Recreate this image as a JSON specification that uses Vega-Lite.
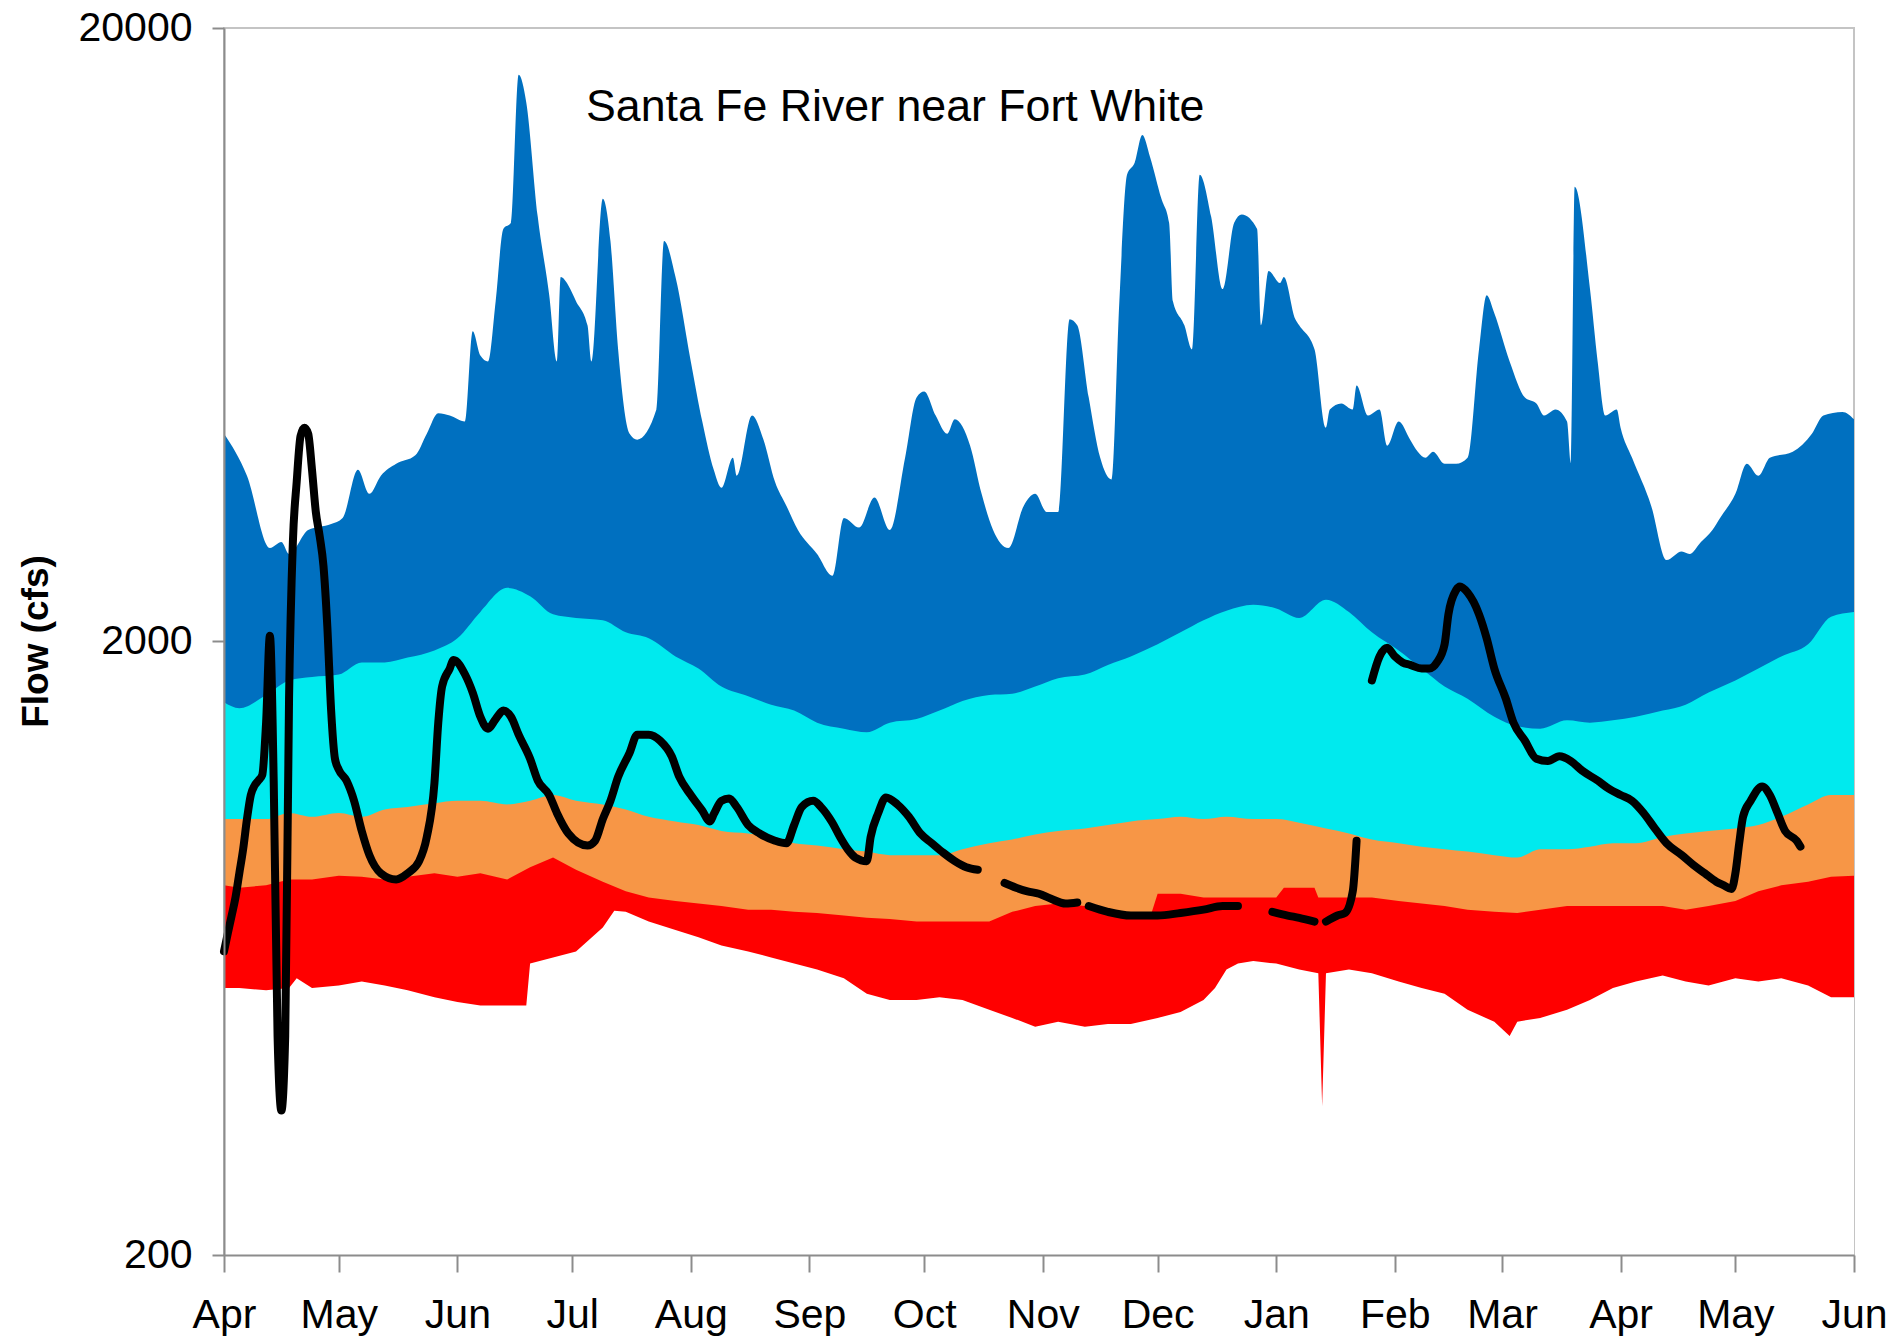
{
  "$schema": "https://vega.github.io/schema/vega-lite/v6.json",
  "autosize": {"type": "none"},
  "padding": {"left": 224, "top": 28, "right": 34, "bottom": 82},
  "width": 1630,
  "height": 1227,
  "background": "white",
  "config": {"font": "Liberation Sans", "view": {"stroke": "#C4C4C4", "strokeWidth": 2}},
  "title": {"text": "Santa Fe River near Fort White", "anchor": "start", "frame": "group", "orient": "top", "offset": 0, "baseline": "top", "dx": 362, "dy": 124, "font": "Liberation Sans", "fontSize": 44.7, "fontWeight": "normal", "color": "black"},
  "datasets": {
    "maxv": [
      {"date":"2012-04-01","flow":4363},{"date":"2012-04-07","flow":3725},{"date":"2012-04-13","flow":2840},{"date":"2012-04-16","flow":2905},{"date":"2012-04-18","flow":2777},{"date":"2012-04-23","flow":3039},{"date":"2012-04-29","flow":3109},{"date":"2012-05-02","flow":3180},{"date":"2012-05-06","flow":3810},{"date":"2012-05-09","flow":3481},{"date":"2012-05-12","flow":3725},{"date":"2012-05-16","flow":3897},{"date":"2012-05-21","flow":4023},{"date":"2012-05-24","flow":4363},{"date":"2012-05-27","flow":4711},{"date":"2012-05-30","flow":4670},{"date":"2012-06-03","flow":4565},{"date":"2012-06-05","flow":6407},{"date":"2012-06-07","flow":5853},{"date":"2012-06-09","flow":5723},{"date":"2012-06-11","flow":7174},{"date":"2012-06-13","flow":9409},{"date":"2012-06-15","flow":9628},{"date":"2012-06-17","flow":16780},{"date":"2012-06-19","flow":15125},{"date":"2012-06-22","flow":9844},{"date":"2012-06-25","flow":7338},{"date":"2012-06-27","flow":5723},{"date":"2012-06-28","flow":7853},{"date":"2012-06-30","flow":7610},{"date":"2012-07-02","flow":7174},{"date":"2012-07-05","flow":6554},{"date":"2012-07-06","flow":5723},{"date":"2012-07-09","flow":10535},{"date":"2012-07-11","flow":8993},{"date":"2012-07-13","flow":5987},{"date":"2012-07-16","flow":4363},{"date":"2012-07-18","flow":4266},{"date":"2012-07-23","flow":4776},{"date":"2012-07-25","flow":8993},{"date":"2012-07-28","flow":7853},{"date":"2012-08-01","flow":5723},{"date":"2012-08-04","flow":4565},{"date":"2012-08-07","flow":3810},{"date":"2012-08-09","flow":3561},{"date":"2012-08-12","flow":3986},{"date":"2012-08-13","flow":3725},{"date":"2012-08-17","flow":4670},{"date":"2012-08-20","flow":4266},{"date":"2012-08-23","flow":3642},{"date":"2012-08-26","flow":3327},{"date":"2012-08-29","flow":3039},{"date":"2012-09-03","flow":2777},{"date":"2012-09-07","flow":2560},{"date":"2012-09-10","flow":3180},{"date":"2012-09-14","flow":3067},{"date":"2012-09-18","flow":3434},{"date":"2012-09-22","flow":3039},{"date":"2012-09-26","flow":3986},{"date":"2012-09-29","flow":4997},{"date":"2012-10-01","flow":5110},{"date":"2012-10-04","flow":4670},{"date":"2012-10-07","flow":4363},{"date":"2012-10-09","flow":4607},{"date":"2012-10-13","flow":4171},{"date":"2012-10-16","flow":3481},{"date":"2012-10-19","flow":3039},{"date":"2012-10-23","flow":2840},{"date":"2012-10-27","flow":3327},{"date":"2012-10-30","flow":3481},{"date":"2012-11-02","flow":3252},{"date":"2012-11-05","flow":3252},{"date":"2012-11-08","flow":6705},{"date":"2012-11-10","flow":6554},{"date":"2012-11-13","flow":4997},{"date":"2012-11-16","flow":3986},{"date":"2012-11-19","flow":3675},{"date":"2012-11-21","flow":7174},{"date":"2012-11-23","flow":11530},{"date":"2012-11-25","flow":12063},{"date":"2012-11-27","flow":13386},{"date":"2012-11-29","flow":12341},{"date":"2012-12-02","flow":10535},{"date":"2012-12-04","flow":9628},{"date":"2012-12-05","flow":7174},{"date":"2012-12-08","flow":6554},{"date":"2012-12-10","flow":5987},{"date":"2012-12-12","flow":11530},{"date":"2012-12-15","flow":9844},{"date":"2012-12-18","flow":7506},{"date":"2012-12-21","flow":9628},{"date":"2012-12-23","flow":9933},{"date":"2012-12-27","flow":9409},{"date":"2012-12-28","flow":6554},{"date":"2012-12-30","flow":8033},{"date":"2013-01-02","flow":7678},{"date":"2013-01-03","flow":7853},{"date":"2013-01-06","flow":6705},{"date":"2013-01-07","flow":6554},{"date":"2013-01-11","flow":5987},{"date":"2013-01-14","flow":4463},{"date":"2013-01-15","flow":4776},{"date":"2013-01-18","flow":4886},{"date":"2013-01-21","flow":4776},{"date":"2013-01-22","flow":5228},{"date":"2013-01-25","flow":4670},{"date":"2013-01-28","flow":4776},{"date":"2013-01-30","flow":4171},{"date":"2013-02-02","flow":4565},{"date":"2013-02-05","flow":4266},{"date":"2013-02-07","flow":4077},{"date":"2013-02-09","flow":3986},{"date":"2013-02-11","flow":4077},{"date":"2013-02-14","flow":3897},{"date":"2013-02-17","flow":3897},{"date":"2013-02-20","flow":3986},{"date":"2013-02-23","flow":5987},{"date":"2013-02-25","flow":7338},{"date":"2013-02-27","flow":6857},{"date":"2013-03-03","flow":5723},{"date":"2013-03-07","flow":4997},{"date":"2013-03-10","flow":4886},{"date":"2013-03-12","flow":4670},{"date":"2013-03-15","flow":4776},{"date":"2013-03-18","flow":4565},{"date":"2013-03-19","flow":3897},{"date":"2013-03-20","flow":11025},{"date":"2013-03-24","flow":7506},{"date":"2013-03-26","flow":5723},{"date":"2013-03-28","flow":4670},{"date":"2013-03-31","flow":4776},{"date":"2013-04-01","flow":4463},{"date":"2013-04-04","flow":3986},{"date":"2013-04-09","flow":3327},{"date":"2013-04-13","flow":2715},{"date":"2013-04-17","flow":2803},{"date":"2013-04-19","flow":2777},{"date":"2013-04-22","flow":2905},{"date":"2013-04-25","flow":3039},{"date":"2013-04-27","flow":3180},{"date":"2013-05-01","flow":3481},{"date":"2013-05-04","flow":3897},{"date":"2013-05-07","flow":3725},{"date":"2013-05-10","flow":3986},{"date":"2013-05-16","flow":4077},{"date":"2013-05-21","flow":4363},{"date":"2013-05-24","flow":4670},{"date":"2013-05-29","flow":4734},{"date":"2013-06-01","flow":4607}
    ],
    "p75": [
      {"date":"2012-04-01","flow":1592},{"date":"2012-04-05","flow":1557},{"date":"2012-04-12","flow":1636},{"date":"2012-04-18","flow":1728},{"date":"2012-04-24","flow":1751},{"date":"2012-05-01","flow":1767},{"date":"2012-05-07","flow":1849},{"date":"2012-05-13","flow":1849},{"date":"2012-05-19","flow":1883},{"date":"2012-05-26","flow":1934},{"date":"2012-06-01","flow":2024},{"date":"2012-06-07","flow":2235},{"date":"2012-06-14","flow":2446},{"date":"2012-06-20","flow":2371},{"date":"2012-06-26","flow":2215},{"date":"2012-07-02","flow":2185},{"date":"2012-07-09","flow":2166},{"date":"2012-07-15","flow":2070},{"date":"2012-07-21","flow":2024},{"date":"2012-07-28","flow":1891},{"date":"2012-08-03","flow":1807},{"date":"2012-08-09","flow":1689},{"date":"2012-08-16","flow":1629},{"date":"2012-08-22","flow":1578},{"date":"2012-08-28","flow":1543},{"date":"2012-09-03","flow":1475},{"date":"2012-09-10","flow":1442},{"date":"2012-09-16","flow":1423},{"date":"2012-09-22","flow":1475},{"date":"2012-09-29","flow":1495},{"date":"2012-10-05","flow":1543},{"date":"2012-10-11","flow":1600},{"date":"2012-10-18","flow":1636},{"date":"2012-10-24","flow":1644},{"date":"2012-10-30","flow":1689},{"date":"2012-11-05","flow":1743},{"date":"2012-11-12","flow":1767},{"date":"2012-11-18","flow":1832},{"date":"2012-11-24","flow":1891},{"date":"2012-12-01","flow":1979},{"date":"2012-12-07","flow":2070},{"date":"2012-12-13","flow":2166},{"date":"2012-12-19","flow":2245},{"date":"2012-12-26","flow":2296},{"date":"2013-01-01","flow":2264},{"date":"2013-01-07","flow":2185},{"date":"2013-01-14","flow":2340},{"date":"2013-01-20","flow":2235},{"date":"2013-01-26","flow":2070},{"date":"2013-02-02","flow":1934},{"date":"2013-02-08","flow":1807},{"date":"2013-02-14","flow":1689},{"date":"2013-02-20","flow":1614},{"date":"2013-02-27","flow":1508},{"date":"2013-03-05","flow":1455},{"date":"2013-03-11","flow":1442},{"date":"2013-03-18","flow":1488},{"date":"2013-03-24","flow":1475},{"date":"2013-03-30","flow":1488},{"date":"2013-04-05","flow":1508},{"date":"2013-04-12","flow":1543},{"date":"2013-04-18","flow":1578},{"date":"2013-04-24","flow":1651},{"date":"2013-05-01","flow":1728},{"date":"2013-05-07","flow":1807},{"date":"2013-05-13","flow":1891},{"date":"2013-05-20","flow":1979},{"date":"2013-05-26","flow":2195},{"date":"2013-06-01","flow":2235}
    ],
    "p25": [
      {"date":"2012-04-01","flow":1027},{"date":"2012-04-05","flow":1027},{"date":"2012-04-12","flow":1027},{"date":"2012-04-18","flow":1051},{"date":"2012-04-24","flow":1036},{"date":"2012-05-01","flow":1051},{"date":"2012-05-07","flow":1036},{"date":"2012-05-13","flow":1065},{"date":"2012-05-19","flow":1075},{"date":"2012-05-26","flow":1090},{"date":"2012-06-01","flow":1100},{"date":"2012-06-07","flow":1100},{"date":"2012-06-14","flow":1085},{"date":"2012-06-20","flow":1100},{"date":"2012-06-26","flow":1124},{"date":"2012-07-02","flow":1100},{"date":"2012-07-09","flow":1085},{"date":"2012-07-15","flow":1065},{"date":"2012-07-21","flow":1036},{"date":"2012-07-28","flow":1018},{"date":"2012-08-03","flow":1004},{"date":"2012-08-09","flow":982},{"date":"2012-08-16","flow":973},{"date":"2012-08-22","flow":960},{"date":"2012-08-28","flow":938},{"date":"2012-09-03","flow":930},{"date":"2012-09-10","flow":917},{"date":"2012-09-16","flow":909},{"date":"2012-09-22","flow":897},{"date":"2012-09-29","flow":897},{"date":"2012-10-05","flow":897},{"date":"2012-10-11","flow":917},{"date":"2012-10-18","flow":938},{"date":"2012-10-24","flow":951},{"date":"2012-10-30","flow":969},{"date":"2012-11-05","flow":982},{"date":"2012-11-12","flow":991},{"date":"2012-11-18","flow":1004},{"date":"2012-11-24","flow":1018},{"date":"2012-12-01","flow":1027},{"date":"2012-12-07","flow":1036},{"date":"2012-12-13","flow":1027},{"date":"2012-12-19","flow":1036},{"date":"2012-12-26","flow":1027},{"date":"2013-01-01","flow":1027},{"date":"2013-01-07","flow":1013},{"date":"2013-01-14","flow":991},{"date":"2013-01-20","flow":973},{"date":"2013-01-26","flow":951},{"date":"2013-02-02","flow":938},{"date":"2013-02-08","flow":926},{"date":"2013-02-14","flow":917},{"date":"2013-02-20","flow":909},{"date":"2013-02-27","flow":897},{"date":"2013-03-05","flow":889},{"date":"2013-03-11","flow":917},{"date":"2013-03-18","flow":917},{"date":"2013-03-24","flow":926},{"date":"2013-03-30","flow":938},{"date":"2013-04-05","flow":938},{"date":"2013-04-12","flow":960},{"date":"2013-04-18","flow":973},{"date":"2013-04-24","flow":982},{"date":"2013-05-01","flow":991},{"date":"2013-05-07","flow":1004},{"date":"2013-05-13","flow":1036},{"date":"2013-05-20","flow":1085},{"date":"2013-05-26","flow":1124},{"date":"2013-06-01","flow":1124}
    ],
    "p10": [
      {"date":"2012-04-01","flow":801},{"date":"2012-04-05","flow":794},{"date":"2012-04-12","flow":801},{"date":"2012-04-18","flow":819},{"date":"2012-04-24","flow":819},{"date":"2012-05-01","flow":830},{"date":"2012-05-07","flow":827},{"date":"2012-05-13","flow":819},{"date":"2012-05-19","flow":827},{"date":"2012-05-26","flow":838},{"date":"2012-06-01","flow":827},{"date":"2012-06-07","flow":838},{"date":"2012-06-14","flow":819},{"date":"2012-06-20","flow":857},{"date":"2012-06-26","flow":889},{"date":"2012-07-02","flow":849},{"date":"2012-07-09","flow":812},{"date":"2012-07-15","flow":783},{"date":"2012-07-21","flow":765},{"date":"2012-07-28","flow":755},{"date":"2012-08-03","flow":748},{"date":"2012-08-09","flow":741},{"date":"2012-08-16","flow":731},{"date":"2012-08-22","flow":731},{"date":"2012-08-28","flow":725},{"date":"2012-09-03","flow":722},{"date":"2012-09-10","flow":715},{"date":"2012-09-16","flow":709},{"date":"2012-09-22","flow":706},{"date":"2012-09-29","flow":699},{"date":"2012-10-05","flow":699},{"date":"2012-10-11","flow":699},{"date":"2012-10-18","flow":699},{"date":"2012-10-24","flow":725},{"date":"2012-10-30","flow":741},{"date":"2012-11-05","flow":748},{"date":"2012-11-12","flow":741},{"date":"2012-11-18","flow":731},{"date":"2012-11-24","flow":715},{"date":"2012-11-29","flow":709},{"date":"2012-12-01","flow":776},{"date":"2012-12-07","flow":776},{"date":"2012-12-13","flow":765},{"date":"2012-12-19","flow":765},{"date":"2012-12-26","flow":765},{"date":"2013-01-01","flow":765},{"date":"2013-01-03","flow":794},{"date":"2013-01-11","flow":794},{"date":"2013-01-12","flow":765},{"date":"2013-01-20","flow":765},{"date":"2013-01-26","flow":765},{"date":"2013-02-02","flow":755},{"date":"2013-02-08","flow":748},{"date":"2013-02-14","flow":741},{"date":"2013-02-20","flow":731},{"date":"2013-02-27","flow":725},{"date":"2013-03-05","flow":722},{"date":"2013-03-11","flow":731},{"date":"2013-03-18","flow":741},{"date":"2013-03-24","flow":741},{"date":"2013-03-30","flow":741},{"date":"2013-04-05","flow":741},{"date":"2013-04-12","flow":741},{"date":"2013-04-18","flow":731},{"date":"2013-04-24","flow":741},{"date":"2013-05-01","flow":755},{"date":"2013-05-07","flow":783},{"date":"2013-05-13","flow":801},{"date":"2013-05-20","flow":812},{"date":"2013-05-26","flow":827},{"date":"2013-06-01","flow":830}
    ],
    "minv": [
      {"date":"2012-04-01","flow":545},{"date":"2012-04-05","flow":545},{"date":"2012-04-12","flow":540},{"date":"2012-04-18","flow":545},{"date":"2012-04-20","flow":565},{"date":"2012-04-24","flow":545},{"date":"2012-05-01","flow":550},{"date":"2012-05-07","flow":558},{"date":"2012-05-13","flow":550},{"date":"2012-05-19","flow":540},{"date":"2012-05-26","flow":526},{"date":"2012-06-01","flow":517},{"date":"2012-06-07","flow":510},{"date":"2012-06-14","flow":510},{"date":"2012-06-19","flow":510},{"date":"2012-06-20","flow":597},{"date":"2012-06-26","flow":611},{"date":"2012-07-02","flow":625},{"date":"2012-07-09","flow":684},{"date":"2012-07-12","flow":728},{"date":"2012-07-15","flow":725},{"date":"2012-07-21","flow":699},{"date":"2012-07-28","flow":677},{"date":"2012-08-03","flow":659},{"date":"2012-08-09","flow":639},{"date":"2012-08-16","flow":625},{"date":"2012-08-22","flow":611},{"date":"2012-08-28","flow":597},{"date":"2012-09-03","flow":584},{"date":"2012-09-10","flow":565},{"date":"2012-09-16","flow":533},{"date":"2012-09-22","flow":521},{"date":"2012-09-29","flow":521},{"date":"2012-10-05","flow":526},{"date":"2012-10-11","flow":521},{"date":"2012-10-18","flow":502},{"date":"2012-10-24","flow":487},{"date":"2012-10-30","flow":471},{"date":"2012-11-05","flow":480},{"date":"2012-11-12","flow":471},{"date":"2012-11-18","flow":476},{"date":"2012-11-24","flow":476},{"date":"2012-12-01","flow":487},{"date":"2012-12-07","flow":498},{"date":"2012-12-13","flow":521},{"date":"2012-12-16","flow":545},{"date":"2012-12-19","flow":584},{"date":"2012-12-22","flow":597},{"date":"2012-12-26","flow":603},{"date":"2013-01-01","flow":597},{"date":"2013-01-07","flow":584},{"date":"2013-01-12","flow":576},{"date":"2013-01-13","flow":350},{"date":"2013-01-14","flow":576},{"date":"2013-01-20","flow":584},{"date":"2013-01-26","flow":576},{"date":"2013-02-02","flow":558},{"date":"2013-02-08","flow":545},{"date":"2013-02-14","flow":533},{"date":"2013-02-20","flow":502},{"date":"2013-02-27","flow":480},{"date":"2013-03-03","flow":455},{"date":"2013-03-05","flow":480},{"date":"2013-03-11","flow":487},{"date":"2013-03-18","flow":502},{"date":"2013-03-24","flow":521},{"date":"2013-03-30","flow":545},{"date":"2013-04-05","flow":558},{"date":"2013-04-12","flow":571},{"date":"2013-04-18","flow":558},{"date":"2013-04-24","flow":550},{"date":"2013-05-01","flow":565},{"date":"2013-05-07","flow":558},{"date":"2013-05-13","flow":565},{"date":"2013-05-20","flow":550},{"date":"2013-05-26","flow":526},{"date":"2013-06-01","flow":526}
    ],
    "obs": [
      {"date":"2012-04-01","flow":625,"seg":"a"},{"date":"2012-04-02","flow":669,"seg":"a"},{"date":"2012-04-03","flow":715,"seg":"a"},{"date":"2012-04-04","flow":765,"seg":"a"},{"date":"2012-04-05","flow":838,"seg":"a"},{"date":"2012-04-06","flow":917,"seg":"a"},{"date":"2012-04-07","flow":1027,"seg":"a"},{"date":"2012-04-08","flow":1124,"seg":"a"},{"date":"2012-04-09","flow":1165,"seg":"a"},{"date":"2012-04-10","flow":1187,"seg":"a"},{"date":"2012-04-11","flow":1212,"seg":"a"},{"date":"2012-04-12","flow":1475,"seg":"a"},{"date":"2012-04-13","flow":2043,"seg":"a"},{"date":"2012-04-14","flow":1176,"seg":"a"},{"date":"2012-04-15","flow":455,"seg":"a"},{"date":"2012-04-16","flow":344,"seg":"a"},{"date":"2012-04-17","flow":455,"seg":"a"},{"date":"2012-04-18","flow":1614,"seg":"a"},{"date":"2012-04-19","flow":2905,"seg":"a"},{"date":"2012-04-20","flow":3642,"seg":"a"},{"date":"2012-04-21","flow":4323,"seg":"a"},{"date":"2012-04-22","flow":4463,"seg":"a"},{"date":"2012-04-23","flow":4363,"seg":"a"},{"date":"2012-04-24","flow":3810,"seg":"a"},{"date":"2012-04-25","flow":3252,"seg":"a"},{"date":"2012-04-26","flow":2971,"seg":"a"},{"date":"2012-04-27","flow":2654,"seg":"a"},{"date":"2012-04-28","flow":2117,"seg":"a"},{"date":"2012-04-29","flow":1543,"seg":"a"},{"date":"2012-04-30","flow":1288,"seg":"a"},{"date":"2012-05-01","flow":1236,"seg":"a"},{"date":"2012-05-03","flow":1187,"seg":"a"},{"date":"2012-05-05","flow":1100,"seg":"a"},{"date":"2012-05-07","flow":982,"seg":"a"},{"date":"2012-05-09","flow":897,"seg":"a"},{"date":"2012-05-12","flow":838,"seg":"a"},{"date":"2012-05-16","flow":819,"seg":"a"},{"date":"2012-05-19","flow":838,"seg":"a"},{"date":"2012-05-22","flow":877,"seg":"a"},{"date":"2012-05-24","flow":960,"seg":"a"},{"date":"2012-05-26","flow":1176,"seg":"a"},{"date":"2012-05-27","flow":1475,"seg":"a"},{"date":"2012-05-28","flow":1689,"seg":"a"},{"date":"2012-05-30","flow":1807,"seg":"a"},{"date":"2012-05-31","flow":1866,"seg":"a"},{"date":"2012-06-03","flow":1767,"seg":"a"},{"date":"2012-06-05","flow":1651,"seg":"a"},{"date":"2012-06-07","flow":1508,"seg":"a"},{"date":"2012-06-09","flow":1442,"seg":"a"},{"date":"2012-06-11","flow":1495,"seg":"a"},{"date":"2012-06-13","flow":1543,"seg":"a"},{"date":"2012-06-15","flow":1508,"seg":"a"},{"date":"2012-06-17","flow":1410,"seg":"a"},{"date":"2012-06-20","flow":1288,"seg":"a"},{"date":"2012-06-22","flow":1187,"seg":"a"},{"date":"2012-06-25","flow":1124,"seg":"a"},{"date":"2012-06-27","flow":1051,"seg":"a"},{"date":"2012-06-30","flow":973,"seg":"a"},{"date":"2012-07-05","flow":930,"seg":"a"},{"date":"2012-07-07","flow":947,"seg":"a"},{"date":"2012-07-09","flow":1027,"seg":"a"},{"date":"2012-07-11","flow":1100,"seg":"a"},{"date":"2012-07-13","flow":1203,"seg":"a"},{"date":"2012-07-16","flow":1317,"seg":"a"},{"date":"2012-07-18","flow":1410,"seg":"a"},{"date":"2012-07-21","flow":1410,"seg":"a"},{"date":"2012-07-24","flow":1378,"seg":"a"},{"date":"2012-07-27","flow":1300,"seg":"a"},{"date":"2012-07-29","flow":1203,"seg":"a"},{"date":"2012-08-01","flow":1124,"seg":"a"},{"date":"2012-08-04","flow":1060,"seg":"a"},{"date":"2012-08-06","flow":1018,"seg":"a"},{"date":"2012-08-07","flow":1046,"seg":"a"},{"date":"2012-08-09","flow":1100,"seg":"a"},{"date":"2012-08-11","flow":1110,"seg":"a"},{"date":"2012-08-13","flow":1075,"seg":"a"},{"date":"2012-08-16","flow":1004,"seg":"a"},{"date":"2012-08-19","flow":973,"seg":"a"},{"date":"2012-08-23","flow":947,"seg":"a"},{"date":"2012-08-26","flow":938,"seg":"a"},{"date":"2012-08-28","flow":1004,"seg":"a"},{"date":"2012-08-30","flow":1075,"seg":"a"},{"date":"2012-09-02","flow":1100,"seg":"a"},{"date":"2012-09-04","flow":1075,"seg":"a"},{"date":"2012-09-07","flow":1013,"seg":"a"},{"date":"2012-09-09","flow":960,"seg":"a"},{"date":"2012-09-11","flow":917,"seg":"a"},{"date":"2012-09-13","flow":889,"seg":"a"},{"date":"2012-09-16","flow":877,"seg":"a"},{"date":"2012-09-17","flow":960,"seg":"a"},{"date":"2012-09-19","flow":1051,"seg":"a"},{"date":"2012-09-21","flow":1114,"seg":"a"},{"date":"2012-09-24","flow":1085,"seg":"a"},{"date":"2012-09-27","flow":1036,"seg":"a"},{"date":"2012-09-30","flow":973,"seg":"a"},{"date":"2012-10-03","flow":938,"seg":"a"},{"date":"2012-10-06","flow":905,"seg":"a"},{"date":"2012-10-09","flow":877,"seg":"a"},{"date":"2012-10-12","flow":857,"seg":"a"},{"date":"2012-10-15","flow":849,"seg":"a"},
      {"date":"2012-10-22","flow":808,"seg":"b"},{"date":"2012-10-25","flow":794,"seg":"b"},{"date":"2012-10-28","flow":783,"seg":"b"},{"date":"2012-10-31","flow":776,"seg":"b"},{"date":"2012-11-03","flow":762,"seg":"b"},{"date":"2012-11-07","flow":748,"seg":"b"},{"date":"2012-11-10","flow":751,"seg":"b"},
      {"date":"2012-11-13","flow":741,"seg":"c"},{"date":"2012-11-18","flow":725,"seg":"c"},{"date":"2012-11-24","flow":715,"seg":"c"},{"date":"2012-12-01","flow":715,"seg":"c"},{"date":"2012-12-07","flow":722,"seg":"c"},{"date":"2012-12-13","flow":731,"seg":"c"},{"date":"2012-12-18","flow":741,"seg":"c"},{"date":"2012-12-22","flow":741,"seg":"c"},
      {"date":"2012-12-31","flow":725,"seg":"d"},{"date":"2013-01-04","flow":715,"seg":"d"},{"date":"2013-01-07","flow":709,"seg":"d"},{"date":"2013-01-11","flow":699,"seg":"d"},
      {"date":"2013-01-14","flow":699,"seg":"e"},{"date":"2013-01-17","flow":715,"seg":"e"},{"date":"2013-01-19","flow":722,"seg":"e"},{"date":"2013-01-21","flow":783,"seg":"e"},{"date":"2013-01-22","flow":947,"seg":"e"},
      {"date":"2013-01-26","flow":1728,"seg":"f"},{"date":"2013-01-28","flow":1891,"seg":"f"},{"date":"2013-01-30","flow":1953,"seg":"f"},{"date":"2013-02-01","flow":1891,"seg":"f"},{"date":"2013-02-03","flow":1849,"seg":"f"},{"date":"2013-02-05","flow":1832,"seg":"f"},{"date":"2013-02-08","flow":1807,"seg":"f"},{"date":"2013-02-10","flow":1807,"seg":"f"},{"date":"2013-02-12","flow":1849,"seg":"f"},{"date":"2013-02-14","flow":1979,"seg":"f"},{"date":"2013-02-15","flow":2215,"seg":"f"},{"date":"2013-02-17","flow":2425,"seg":"f"},{"date":"2013-02-18","flow":2458,"seg":"f"},{"date":"2013-02-20","flow":2403,"seg":"f"},{"date":"2013-02-23","flow":2215,"seg":"f"},{"date":"2013-02-25","flow":2024,"seg":"f"},{"date":"2013-02-27","flow":1807,"seg":"f"},{"date":"2013-03-02","flow":1614,"seg":"f"},{"date":"2013-03-04","flow":1475,"seg":"f"},{"date":"2013-03-07","flow":1378,"seg":"f"},{"date":"2013-03-10","flow":1288,"seg":"f"},{"date":"2013-03-13","flow":1277,"seg":"f"},{"date":"2013-03-16","flow":1300,"seg":"f"},{"date":"2013-03-19","flow":1277,"seg":"f"},{"date":"2013-03-22","flow":1231,"seg":"f"},{"date":"2013-03-26","flow":1187,"seg":"f"},{"date":"2013-03-29","flow":1150,"seg":"f"},{"date":"2013-04-01","flow":1124,"seg":"f"},{"date":"2013-04-04","flow":1100,"seg":"f"},{"date":"2013-04-07","flow":1051,"seg":"f"},{"date":"2013-04-10","flow":991,"seg":"f"},{"date":"2013-04-13","flow":938,"seg":"f"},{"date":"2013-04-17","flow":897,"seg":"f"},{"date":"2013-04-20","flow":865,"seg":"f"},{"date":"2013-04-23","flow":838,"seg":"f"},{"date":"2013-04-26","flow":812,"seg":"f"},{"date":"2013-04-28","flow":801,"seg":"f"},{"date":"2013-04-30","flow":790,"seg":"f"},{"date":"2013-05-01","flow":838,"seg":"f"},{"date":"2013-05-02","flow":938,"seg":"f"},{"date":"2013-05-03","flow":1036,"seg":"f"},{"date":"2013-05-05","flow":1100,"seg":"f"},{"date":"2013-05-08","flow":1161,"seg":"f"},{"date":"2013-05-10","flow":1124,"seg":"f"},{"date":"2013-05-12","flow":1051,"seg":"f"},{"date":"2013-05-14","flow":982,"seg":"f"},{"date":"2013-05-17","flow":947,"seg":"f"},{"date":"2013-05-18","flow":926,"seg":"f"}
    ]
  },
  "encoding": {
    "x": {
      "field": "date", "type": "temporal",
      "scale": {"type": "utc", "domain": [{"year": 2012, "month": 4, "date": 1, "utc": true}, {"year": 2013, "month": 6, "date": 1, "utc": true}]},
      "axis": {
        "title": null, "format": "%b", "grid": false, "zindex": 1,
        "values": [
          {"year": 2012, "month": 4, "date": 1, "utc": true}, {"year": 2012, "month": 5, "date": 1, "utc": true}, {"year": 2012, "month": 6, "date": 1, "utc": true}, {"year": 2012, "month": 7, "date": 1, "utc": true}, {"year": 2012, "month": 8, "date": 1, "utc": true}, {"year": 2012, "month": 9, "date": 1, "utc": true}, {"year": 2012, "month": 10, "date": 1, "utc": true}, {"year": 2012, "month": 11, "date": 1, "utc": true}, {"year": 2012, "month": 12, "date": 1, "utc": true}, {"year": 2013, "month": 1, "date": 1, "utc": true}, {"year": 2013, "month": 2, "date": 1, "utc": true}, {"year": 2013, "month": 3, "date": 1, "utc": true}, {"year": 2013, "month": 4, "date": 1, "utc": true}, {"year": 2013, "month": 5, "date": 1, "utc": true}, {"year": 2013, "month": 6, "date": 1, "utc": true}
        ],
        "labelFont": "Liberation Sans", "labelFontSize": 41, "labelColor": "black", "labelPadding": 23,
        "labelFlush": false, "labelOverlap": false, "labelBound": false,
        "tickSize": 17, "tickColor": "#8C8C8C", "tickWidth": 2, "domainColor": "#8C8C8C", "domainWidth": 2
      }
    },
    "y": {
      "field": "flow", "type": "quantitative",
      "scale": {"type": "log", "domain": [200, 20000], "nice": false},
      "axis": {
        "values": [200, 2000, 20000], "format": "d", "grid": false, "zindex": 1,
        "labelFont": "Liberation Sans", "labelFontSize": 41, "labelColor": "black", "labelPadding": 20, "labelOverlap": false, "labelFlush": false,
        "tickSize": 12, "tickColor": "#8C8C8C", "tickWidth": 2, "domainColor": "#8C8C8C", "domainWidth": 2,
        "title": "Flow (cfs)", "titleFont": "Liberation Sans", "titleFontSize": 37, "titleFontWeight": "bold", "titleColor": "black",
        "titleAngle": -90, "titleX": -188, "titleY": 613, "titleAlign": "center", "titleBaseline": "middle"
      }
    }
  },
  "layer": [
    {"data": {"name": "maxv"}, "mark": {"type": "area", "color": "#0070C0", "opacity": 1, "interpolate": "monotone"}, "encoding": {"y2": {"datum": 200}}},
    {"data": {"name": "p75"}, "mark": {"type": "area", "color": "#00EAEE", "opacity": 1, "interpolate": "monotone"}, "encoding": {"y2": {"datum": 200}}},
    {"data": {"name": "p25"}, "mark": {"type": "area", "color": "#F79646", "opacity": 1, "interpolate": "monotone"}, "encoding": {"y2": {"datum": 200}}},
    {"data": {"name": "p10"}, "mark": {"type": "area", "color": "#FF0000", "opacity": 1}, "encoding": {"y2": {"datum": 200}}},
    {"data": {"name": "minv"}, "mark": {"type": "area", "color": "#FFFFFF", "opacity": 1}, "encoding": {"y2": {"datum": 200}}},
    {"data": {"name": "obs"}, "mark": {"type": "line", "color": "#000000", "strokeWidth": 8, "strokeCap": "round", "strokeJoin": "round", "interpolate": "monotone"}, "encoding": {"detail": {"field": "seg", "type": "nominal"}}}
  ]
}
